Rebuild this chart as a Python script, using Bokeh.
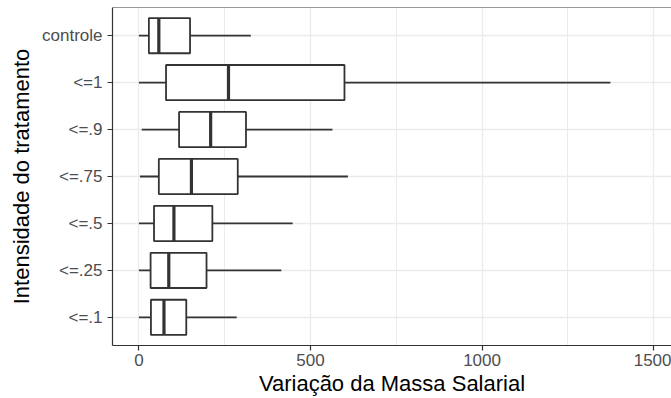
from bokeh.plotting import figure
from bokeh.models import Range1d, FixedTicker, Span, ColumnDataSource
from bokeh.embed import file_html
from bokeh.resources import INLINE

# Treatment intensity groups, listed from bottom to top of the chart
categories = ["<=.1", "<=.25", "<=.5", "<=.75", "<=.9", "<=1", "controle"]
whisker_low = [0, 0, 0, 3, 8, 0, 0]
q1 = [35, 34, 44, 58, 117, 79, 29]
median = [73, 87, 102, 153, 209, 261, 58]
q3 = [138, 197, 214, 288, 312, 599, 149]
whisker_high = [285, 415, 448, 609, 564, 1374, 326]

x_ticks = [0, 500, 1000, 1500]
x_minor = [-250, 250, 750, 1250]

ypos = list(range(1, len(categories) + 1))
box_h = 0.75

src = ColumnDataSource(dict(
    y=ypos, lo=whisker_low, q1=q1, med=median, q3=q3, hi=whisker_high,
    y0=[y - box_h / 2 for y in ypos], y1=[y + box_h / 2 for y in ypos],
))

p = figure(width=671, height=398, output_backend="svg", toolbar_location=None,
           x_range=Range1d(-77, 1552), y_range=Range1d(0.4, len(categories) + 0.6),
           min_border_left=112, min_border_top=7, min_border_bottom=53, min_border_right=0)
p.outline_line_color = None
p.background_fill_color = "white"
p.border_fill_color = "white"

dark = "#333333"
font = "Liberation Sans"

# whiskers
p.segment(x0="lo", y0="y", x1="q1", y1="y", source=src, line_color=dark, line_width=1.8)
p.segment(x0="q3", y0="y", x1="hi", y1="y", source=src, line_color=dark, line_width=1.8)
# boxes
p.hbar(y="y", left="q1", right="q3", height=box_h, source=src,
       fill_color="white", line_color=dark, line_width=1.8)
# medians
p.segment(x0="med", y0="y0", x1="med", y1="y1", source=src, line_color=dark, line_width=3.2)

# panel border top (left and bottom come from the axis lines)
p.add_layout(Span(location=len(categories) + 0.6, dimension="width",
                  line_color=dark, line_width=1.2))

p.xaxis.ticker = FixedTicker(ticks=x_ticks, minor_ticks=x_minor)
p.yaxis.ticker = FixedTicker(ticks=ypos)
p.yaxis.major_label_overrides = {y: c for y, c in zip(ypos, categories)}

p.xgrid.grid_line_color = "#EBEBEB"
p.xgrid.grid_line_width = 1.3
p.xgrid.minor_grid_line_color = "#EBEBEB"
p.xgrid.minor_grid_line_width = 1
p.ygrid.grid_line_color = "#EBEBEB"
p.ygrid.grid_line_width = 1.3

for ax in (p.xaxis, p.yaxis):
    ax.axis_line_color = dark
    ax.axis_line_width = 1.2
    ax.major_tick_line_color = dark
    ax.major_tick_line_width = 1.2
    ax.major_tick_out = 5
    ax.major_tick_in = 0
    ax.minor_tick_line_color = None
    ax.major_label_text_font = font
    ax.major_label_text_font_size = "17px"
    ax.major_label_text_color = "#4D4D4D"
    ax.major_label_standoff = 5
    ax.axis_label_text_font = font
    ax.axis_label_text_font_size = "22px"
    ax.axis_label_text_font_style = "normal"
    ax.axis_label_text_color = "black"

p.xaxis.major_label_standoff = 3
p.xaxis.axis_label = "Variação da Massa Salarial"
p.xaxis.axis_label_standoff = 2
p.yaxis.axis_label = "Intensidade do tratamento"
p.yaxis.axis_label_standoff = 5

open("out.html", "w").write(file_html(p, INLINE))
